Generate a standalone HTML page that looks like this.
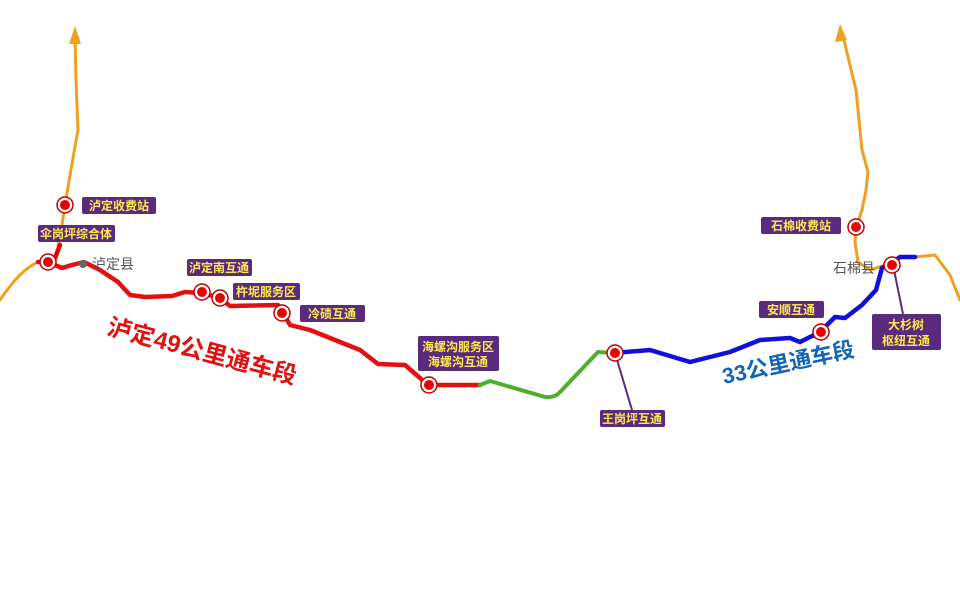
<!DOCTYPE html>
<html><head><meta charset="utf-8"><style>
body{margin:0;background:#fff;width:960px;height:600px;overflow:hidden;font-family:"Liberation Sans","Noto Sans CJK SC",sans-serif}
</style></head><body>
<svg width="960" height="600" viewBox="0 0 960 600" xmlns="http://www.w3.org/2000/svg">
<g fill="none" stroke-linecap="round" stroke-linejoin="round">
<path d="M0,300 Q20,270 38,262" stroke="#f0a020" stroke-width="3"/>
<path d="M58,246 L62,225 L65,205 L70,175 L78,130 L76,80 L75,35" stroke="#f0a020" stroke-width="3"/>
<path d="M915,257 L935,255 L950,275 L960,300" stroke="#f0a020" stroke-width="3"/>
<path d="M885,265 L870,270 L858,262 L855,242 L856,227 L862,210 L866,190 L868,172 L862,150 L856,90 L842,32" stroke="#f0a020" stroke-width="3"/>
<path d="M60,245 L55,258" stroke="#e00" stroke-width="4.5"/>
<path d="M38,262 L48,262 L62,268 L72,265 L84,262 L100,270 L118,282 L130,295 L145,297 L172,296 L185,292 L202,293 L220,298 L230,306 L278,305 L283,313 L290,325 L310,330 L330,338 L360,350 L378,364 L405,365 L428,385 L440,385 L480,385" stroke="#e41010" stroke-width="4.5"/>
<path d="M480,385 L490,381 L545,397 Q555,398 560,392 L598,352 L614,353" stroke="#4cb02a" stroke-width="4"/>
<path d="M614,353 L650,350 L690,362 L730,352 L760,340 L790,338 L800,342 L820,332 L835,317 L845,318 L862,305 L876,290 L882,268 L893,262 L900,257 L915,257" stroke="#1010dd" stroke-width="4.5"/>
</g>
<path d="M75,26 L69,44 L81,44 Z" fill="#f0a020"/>
<path d="M840,24 L835,42 L847,40 Z" fill="#f0a020"/>
<line x1="615" y1="353" x2="632" y2="410" stroke="#5a2a7f" stroke-width="2"/>
<line x1="893" y1="265" x2="903" y2="314" stroke="#5a2a7f" stroke-width="2"/>
<g fill="#e00" stroke="#b00" stroke-width="1.5">
<g><circle cx="65" cy="205" r="8" fill="#fff"/><circle cx="65" cy="205" r="5" stroke="none"/></g>
<g><circle cx="48" cy="262" r="8" fill="#fff"/><circle cx="48" cy="262" r="5" stroke="none"/></g>
<g><circle cx="202" cy="292" r="8" fill="#fff"/><circle cx="202" cy="292" r="5" stroke="none"/></g>
<g><circle cx="220" cy="298" r="8" fill="#fff"/><circle cx="220" cy="298" r="5" stroke="none"/></g>
<g><circle cx="282" cy="313" r="8" fill="#fff"/><circle cx="282" cy="313" r="5" stroke="none"/></g>
<g><circle cx="429" cy="385" r="8" fill="#fff"/><circle cx="429" cy="385" r="5" stroke="none"/></g>
<g><circle cx="615" cy="353" r="8" fill="#fff"/><circle cx="615" cy="353" r="5" stroke="none"/></g>
<g><circle cx="821" cy="332" r="8" fill="#fff"/><circle cx="821" cy="332" r="5" stroke="none"/></g>
<g><circle cx="856" cy="227" r="8" fill="#fff"/><circle cx="856" cy="227" r="5" stroke="none"/></g>
<g><circle cx="892" cy="265" r="8" fill="#fff"/><circle cx="892" cy="265" r="5" stroke="none"/></g>
</g>
<circle cx="83" cy="264" r="4" fill="#666"/>
<text x="92" y="269" font-size="14" fill="#555">泸定县</text>
<text x="833" y="273" font-size="14" fill="#555">石棉县</text>
<g fill="#5a2a7f">
<rect x="82" y="197" width="74" height="17" rx="2"/>
<rect x="38" y="225" width="77" height="17" rx="2"/>
<rect x="187" y="259" width="65" height="17" rx="2"/>
<rect x="233" y="283" width="67" height="17" rx="2"/>
<rect x="300" y="305" width="65" height="17" rx="2"/>
<rect x="418" y="336" width="81" height="35" rx="2"/>
<rect x="600" y="410" width="65" height="17" rx="2"/>
<rect x="761" y="217" width="80" height="17" rx="2"/>
<rect x="759" y="301" width="65" height="17" rx="2"/>
<rect x="872" y="314" width="69" height="36" rx="2"/>
</g>
<g fill="#ffe94a" font-size="12" font-weight="bold" text-anchor="middle">
<text x="119" y="210">泸定收费站</text>
<text x="76" y="238">伞岗坪综合体</text>
<text x="219" y="272">泸定南互通</text>
<text x="266" y="296">杵坭服务区</text>
<text x="332" y="318">冷碛互通</text>
<text x="458" y="351">海螺沟服务区</text>
<text x="458" y="366">海螺沟互通</text>
<text x="632" y="423">王岗坪互通</text>
<text x="801" y="230">石棉收费站</text>
<text x="791" y="314">安顺互通</text>
<text x="906" y="329">大杉树</text>
<text x="906" y="345">枢纽互通</text>
</g>
<text x="0" y="0" font-size="24" font-weight="bold" fill="#e41010" transform="translate(106,334) rotate(15)">泸定49公里通车段</text>
<text x="0" y="0" font-size="22" font-weight="bold" fill="#1565b5" transform="translate(724,384) rotate(-12)">33公里通车段</text>
</svg>
</body></html>
